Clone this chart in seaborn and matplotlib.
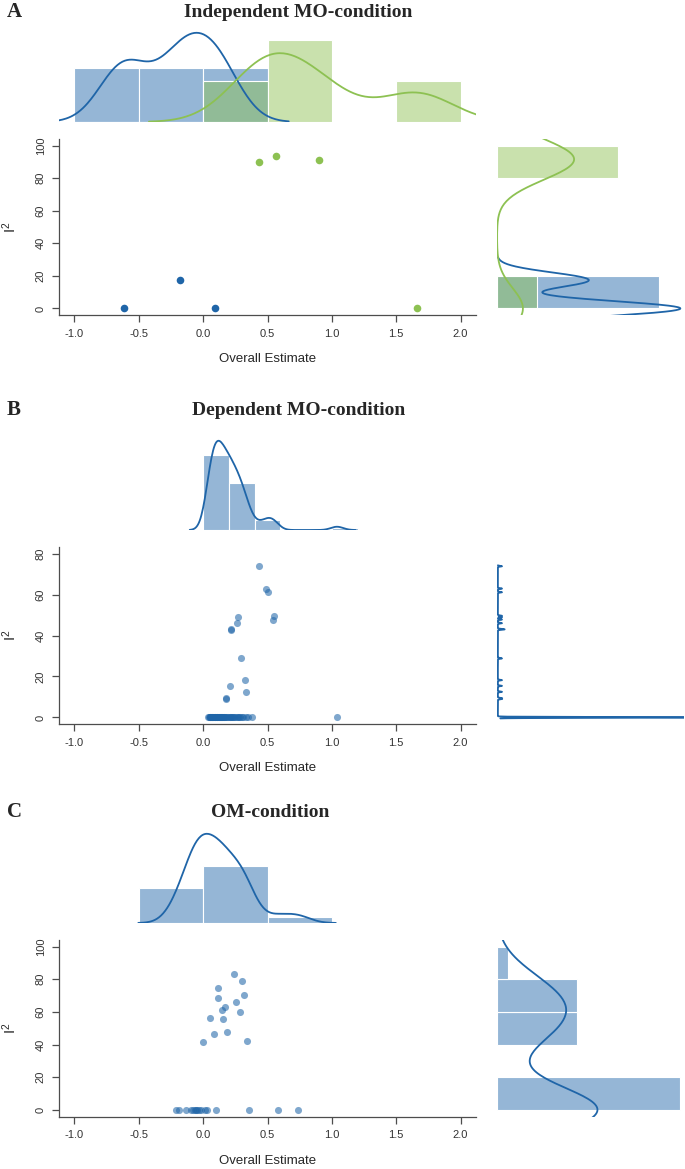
import numpy as np
import pandas as pd
import matplotlib
matplotlib.use("Agg")
import matplotlib.pyplot as plt
import seaborn as sns

# ---- values ----
# A: independent MO-condition (two subgroups)
a_est_blue = [-0.614, -0.177, 0.093]
a_i2_blue = [0.0, 17.4, 0.0]
a_est_green = [0.431, 0.565, 0.900, 1.658]
a_i2_green = [89.8, 93.6, 91.2, 0.0]

# B: dependent MO-condition
b_est_pos = [0.434, 0.491, 0.501, 0.551, 0.543, 0.270, 0.262, 0.218, 0.220,
             0.294, 0.327, 0.205, 0.332, 0.174, 0.176]
b_i2_pos = [73.8, 62.9, 61.1, 49.6, 47.8, 48.9, 46.0, 42.9, 43.1,
            28.8, 18.2, 15.4, 12.5, 9.4, 9.0]
b_est_zero = [0.040, 0.045, 0.050, 0.050, 0.055, 0.060, 0.060, 0.065, 0.070, 0.070,
              0.075, 0.080, 0.085, 0.090, 0.090, 0.095, 0.100, 0.105, 0.110, 0.110,
              0.115, 0.120, 0.125, 0.130, 0.130, 0.135, 0.140, 0.145, 0.150, 0.155,
              0.160, 0.165, 0.170, 0.180, 0.185, 0.195,
              0.205, 0.210, 0.220, 0.225, 0.235, 0.240, 0.250, 0.260, 0.270, 0.280,
              0.290, 0.300, 0.310, 0.330, 0.350, 0.380, 1.040]

# C: OM-condition
c_est_pos = [0.239, 0.304, 0.112, 0.317, 0.112, 0.255, 0.166, 0.143, 0.288,
             0.052, 0.158, 0.187, 0.088, -0.005, 0.338]
c_i2_pos = [83.1, 79.0, 74.7, 70.6, 68.4, 65.9, 62.9, 61.4, 59.8,
            56.1, 55.5, 48.0, 46.5, 41.4, 42.0]
c_est_zero = [-0.213, -0.187, -0.130, -0.095, -0.080, -0.065, -0.055, -0.045,
              -0.035, -0.020, 0.013, 0.031, 0.096, 0.358, 0.579, 0.740]

titles = ["Independent MO-condition", "Dependent MO-condition", "OM-condition"]
letters = ["A", "B", "C"]
x_ticks = [-1.0, -0.5, 0.0, 0.5, 1.0, 1.5, 2.0]

BLUE = "#1f65a8"
GREEN = "#8dc152"

sns.set_style("ticks")
plt.rcParams["font.family"] = ["Liberation Sans", "DejaVu Sans"]
plt.rcParams["axes.unicode_minus"] = False

W, H = 685, 1169
fig = plt.figure(figsize=(W / 100, H / 100), dpi=100)


def box(x0, y0, x1, y1):
    return [x0 / W, 1 - y1 / H, (x1 - x0) / W, (y1 - y0) / H]


def nrd0_adjust(v):
    # R's default bandwidth expressed as a seaborn bw_adjust
    v = np.asarray(v, float)
    sd = v.std(ddof=1)
    q75, q25 = np.percentile(v, [75, 25])
    lo = min(sd, (q75 - q25) / 1.34) or sd
    return 0.9 * lo / sd


def dens_max(ax, horizontal):
    vals = []
    for ln in ax.lines:
        vals.append(np.max(ln.get_xdata() if horizontal else ln.get_ydata()))
    for p in ax.patches:
        vals.append(p.get_width() if horizontal else p.get_height())
    return max(vals)


def panel(top_y, groups, ylim, yticks, x_bins, y_bins, pt_alpha, pt_size, title_x, title_base):
    sc_top, sc_bot = top_y
    ax = fig.add_axes(box(59, sc_top, 476, sc_bot))
    ax_top = fig.add_axes(box(59, sc_top - 108, 476, sc_top - 17), sharex=ax)
    ax_r = fig.add_axes(box(497, sc_top, 684, sc_bot), sharey=ax)

    for est, i2, col in groups:
        sns.histplot(x=est, bins=x_bins, stat="density", color=col, alpha=0.47,
                     edgecolor="white", linewidth=0.8, ax=ax_top)
        if y_bins is not None:
            sns.histplot(y=i2, bins=y_bins, stat="density", color=col, alpha=0.47,
                         edgecolor="white", linewidth=0.8, ax=ax_r)
    for est, i2, col in groups:
        sns.kdeplot(x=est, bw_adjust=nrd0_adjust(est), color=col, linewidth=1.3, ax=ax_top)
        if y_bins is not None:
            sns.kdeplot(y=i2, bw_adjust=nrd0_adjust(i2), color=col, linewidth=1.3, ax=ax_r)
        else:
            sns.kdeplot(y=i2, bw_adjust=0.02, gridsize=4000, color=col, linewidth=1.3, ax=ax_r)
        sns.scatterplot(x=est, y=i2, color=col, alpha=pt_alpha, s=pt_size,
                        linewidth=0, ax=ax)

    ax_top.set_ylim(0, 1.02 * dens_max(ax_top, False))
    if y_bins is not None:
        ax_r.set_xlim(0, 1.02 * dens_max(ax_r, True))
    else:
        m = dens_max(ax_r, True)
        ax_r.set_xlim(-0.004 * m, 0.85 * m)
    ax_top.axis("off")
    ax_r.axis("off")

    ax.set_xlim(-1.12, 2.12)
    ax.set_ylim(*ylim)
    ax.set_xticks(x_ticks)
    ax.set_yticks(yticks)
    sns.despine(ax=ax)
    for s in ["left", "bottom"]:
        ax.spines[s].set_color("0.3")
        ax.spines[s].set_linewidth(0.9)
    ax.tick_params(axis="both", length=5, width=0.9, color="0.3",
                   labelsize=8, labelcolor="0.2")
    ax.tick_params(axis="x", pad=5)
    ax.tick_params(axis="y", pad=4.5, labelrotation=90)
    for lab in ax.get_yticklabels():
        lab.set_va("center")
    h = sc_bot - sc_top
    ax.set_xlabel("Overall Estimate", fontsize=9.5, color="0.15")
    ax.xaxis.set_label_coords(0.5, -38 / h)
    ax.set_ylabel(r"$\mathregular{I^2}$", fontsize=10.5, color="0.15")
    ax.yaxis.set_label_coords(-(59 - 19) / 417, 0.5)

    letter, title = title_x[1], title_x[2]
    fig.text(7 / W, 1 - title_base / H, letter, ha="left", va="baseline",
             family="Liberation Serif", weight="bold", fontsize=15)
    fig.text(title_x[0] / W, 1 - title_base / H, title, ha="center", va="baseline",
             family="Liberation Serif", weight="bold", fontsize=14)


# A
panel((139, 315),
      [(a_est_blue, a_i2_blue, BLUE), (a_est_green, a_i2_green, GREEN)],
      (-4, 104), [0, 20, 40, 60, 80, 100],
      np.arange(-1.0, 2.01, 0.5), np.arange(0, 101, 20), 1.0, 30,
      (298, letters[0], titles[0]), 17)

# B
b_est = b_est_pos + b_est_zero
b_i2 = b_i2_pos + [0.0] * len(b_est_zero)
panel((547, 724), [(b_est, b_i2, BLUE)],
      (-3.2, 83.2), [0, 20, 40, 60, 80],
      np.arange(0.0, 1.21, 0.2), None, 0.57, 26,
      (299, letters[1], titles[1]), 415)

# C
c_est = c_est_pos + c_est_zero
c_i2 = c_i2_pos + [0.0] * len(c_est_zero)
panel((940, 1116.5), [(c_est, c_i2, BLUE)],
      (-4, 104), [0, 20, 40, 60, 80, 100],
      np.arange(-0.5, 1.01, 0.5), np.arange(0, 101, 20), 0.57, 26,
      (270, letters[2], titles[2]), 817)

fig.savefig("out.png", dpi=100)
